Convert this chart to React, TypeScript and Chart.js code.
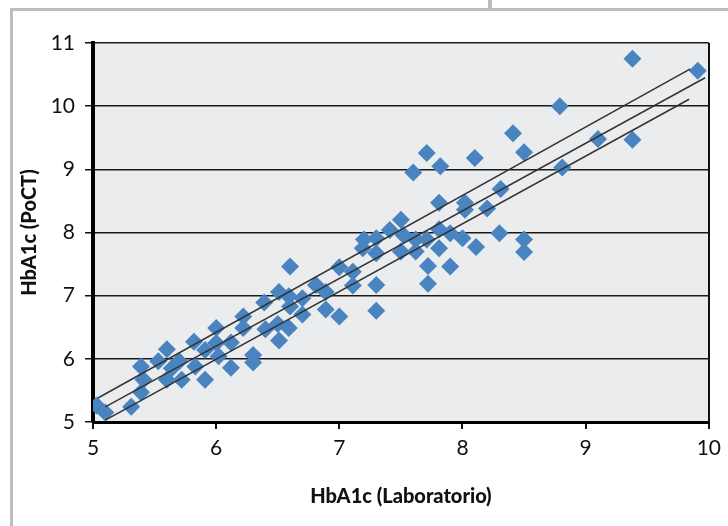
import React, { useEffect, useRef } from "react";
import { Chart, registerables } from "chart.js";

Chart.register(...registerables);

// HbA1c Laboratorio (x) vs HbA1c PoCT (y)
const labValues = [
  5.03, 5.10, 5.31, 5.39, 5.41, 5.39, 5.53, 5.60, 5.60, 5.64,
  5.70, 5.72, 5.83, 5.91, 5.82, 5.91, 6.00, 6.00, 6.02, 6.12,
  6.12, 6.22, 6.30, 6.30, 6.22, 6.39, 6.40, 6.50, 6.51, 6.59,
  6.51, 6.60, 6.59, 6.60, 6.70, 6.70, 6.81, 6.89, 6.89, 7.00,
  7.00, 7.11, 7.11, 7.19, 7.20, 7.30, 7.30, 7.30, 7.30, 7.41,
  7.50, 7.52, 7.50, 7.62, 7.62, 7.71, 7.72, 7.72, 7.81, 7.81,
  7.81, 7.90, 7.90, 8.00, 8.02, 8.02, 8.11, 8.20, 8.30, 8.31,
  8.50, 8.50, 7.60, 7.71, 7.82, 8.10, 8.41, 8.50, 8.79, 8.81,
  9.10, 9.38, 9.38, 9.91,
];
const pocValues = [
  5.26, 5.15, 5.24, 5.47, 5.67, 5.88, 5.96, 6.15, 5.67, 5.85,
  5.96, 5.67, 5.88, 5.67, 6.27, 6.14, 6.49, 6.25, 6.04, 6.26,
  5.86, 6.49, 6.06, 5.94, 6.67, 6.89, 6.47, 6.55, 6.29, 6.49,
  7.06, 7.46, 6.99, 6.83, 6.96, 6.70, 7.17, 7.06, 6.78, 6.67,
  7.45, 7.38, 7.16, 7.75, 7.89, 7.91, 7.67, 7.17, 6.76, 8.04,
  8.20, 7.96, 7.70, 7.89, 7.70, 7.89, 7.47, 7.19, 8.05, 7.75,
  8.47, 7.99, 7.46, 7.91, 8.47, 8.36, 7.77, 8.38, 7.99, 8.69,
  7.89, 7.69, 8.95, 9.26, 9.05, 9.18, 9.57, 9.27, 10.00, 9.03,
  9.48, 9.47, 10.75, 10.56,
];

// Regression line and its two bounds: [start, end]
const upperLineX = [5.04, 9.85];
const upperLineY = [5.38, 10.59];
const middleLineX = [5.10, 9.97];
const middleLineY = [5.24, 10.45];
const lowerLineX = [5.10, 9.84];
const lowerLineY = [5.03, 10.11];

const xTickValues = [5, 6, 7, 8, 9, 10];
const yTickValues = [5, 6, 7, 8, 9, 10, 11];

const xTitle = "HbA1c (Laboratorio)";
const yTitle = "HbA1c (PoCT)";

const toPoints = (xs: number[], ys: number[]) => xs.map((x, i) => ({ x, y: ys[i] }));

const FONT = "Lato, 'Liberation Sans', sans-serif";

const plotBg = {
  id: "plotBg",
  beforeDraw(chart: any) {
    const { ctx, chartArea } = chart;
    ctx.save();
    ctx.fillStyle = "#ebecee";
    ctx.fillRect(chartArea.left, chartArea.top, chartArea.right - chartArea.left, chartArea.bottom - chartArea.top);
    ctx.restore();
  },
};

export default function App() {
  const canvasRef = useRef<HTMLCanvasElement | null>(null);

  useEffect(() => {
    if (!canvasRef.current) return;
    const lineStyle = {
      type: "line" as const,
      borderColor: "#333333",
      borderWidth: 1.5,
      pointRadius: 0,
      fill: false,
      order: 0,
      showLine: true,
    };
    const chart = new Chart(canvasRef.current, {
      type: "scatter",
      data: {
        datasets: [
          { ...lineStyle, data: toPoints(upperLineX, upperLineY) } as any,
          { ...lineStyle, data: toPoints(middleLineX, middleLineY) } as any,
          { ...lineStyle, data: toPoints(lowerLineX, lowerLineY) } as any,
          {
            type: "scatter",
            data: toPoints(labValues, pocValues),
            pointStyle: "rectRot",
            pointRadius: 9,
            backgroundColor: "#4a84c0",
            borderWidth: 0,
            order: 1,
          } as any,
        ],
      },
      options: {
        animation: false,
        responsive: false,
        layout: { padding: { left: 0, top: 43, right: 18, bottom: 0 } },
        plugins: { legend: { display: false }, tooltip: { enabled: false } },
        scales: {
          x: {
            type: "linear",
            min: 5,
            max: 10,
            afterBuildTicks: (s: any) => {
              s.ticks = xTickValues.map((v) => ({ value: v }));
            },
            afterFit: (s: any) => {
              s.height = 104;
            },
            ticks: {
              font: { family: FONT, size: 21, weight: "400" },
              color: "#111",
              padding: 7,
              maxRotation: 0,
              callback: (v: any) => String(v),
            },
            grid: {
              drawOnChartArea: true,
              color: (c: any) => (c.tick && c.tick.value === 10 ? "#111" : "rgba(0,0,0,0)"),
              tickColor: "#111",
              lineWidth: 2,
              tickLength: 7,
            },
            border: { display: true, color: "#000", width: 3 },
            title: {
              display: true,
              text: xTitle,
              font: { family: FONT, size: 20, weight: "900" },
              color: "#111",
              padding: { top: 0, bottom: 17 },
            },
          },
          y: {
            type: "linear",
            min: 5,
            max: 11,
            afterBuildTicks: (s: any) => {
              s.ticks = yTickValues.map((v) => ({ value: v }));
            },
            afterFit: (s: any) => {
              s.width = 93;
            },
            ticks: {
              font: { family: FONT, size: 21, weight: "400" },
              color: "#111",
              padding: 10,
              callback: (v: any) => String(v),
            },
            grid: {
              color: "#1a1a1a",
              tickColor: "#111",
              lineWidth: 1.5,
              tickLength: 8,
            },
            border: { display: true, color: "#000", width: 4 },
            title: {
              display: true,
              text: yTitle,
              font: { family: FONT, size: 20, weight: "900" },
              color: "#111",
              padding: { top: 18, bottom: 0 },
            },
          },
        },
      } as any,
      plugins: [plotBg],
    });
    return () => chart.destroy();
  }, []);

  return (
    <div style={{ position: "fixed", left: 0, top: 0, width: 728, height: 526, background: "#fff", overflow: "hidden" }}>
      <div style={{ position: "absolute", left: 10, top: 8, width: 718, height: 3, background: "#bdbdbf" }} />
      <div style={{ position: "absolute", left: 10, top: 8, width: 3, height: 518, background: "#bdbdbf" }} />
      <div style={{ position: "absolute", left: 488, top: 0, width: 4, height: 10, background: "#bdbdbf" }} />
      <canvas ref={canvasRef} width={728} height={526} style={{ position: "absolute", left: 0, top: 0, width: 728, height: 526 }} />
    </div>
  );
}
